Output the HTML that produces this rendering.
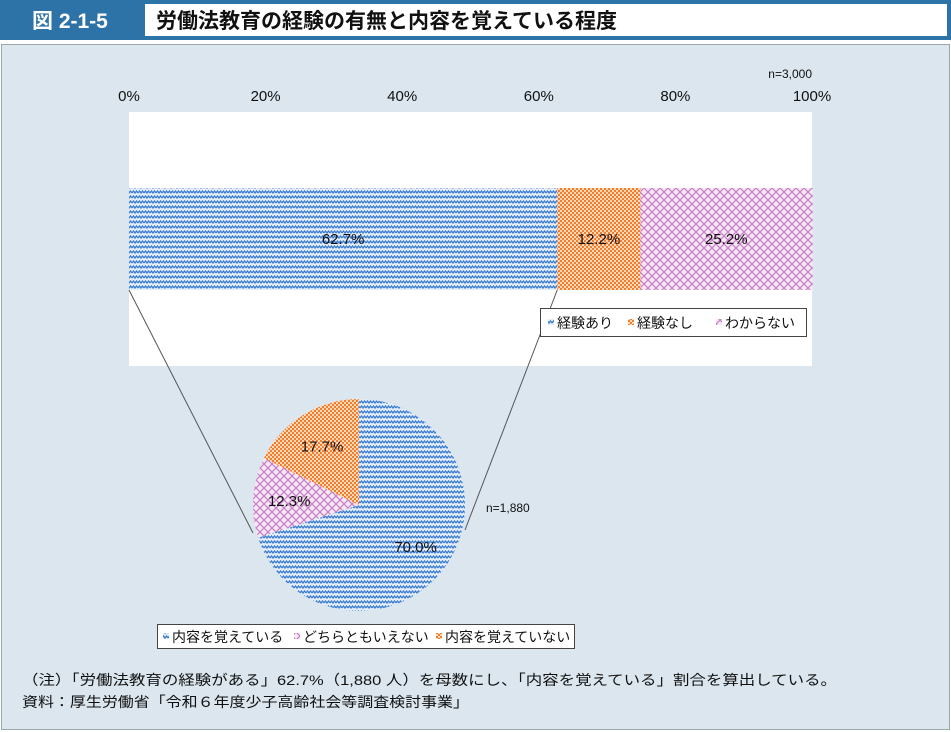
<!DOCTYPE html>
<html><head><meta charset="utf-8"><style>
body{margin:0;background:#fff;}
svg{display:block;font-family:"Liberation Sans","Noto Sans CJK JP",sans-serif;}
</style></head><body>
<svg id="chart" width="951" height="732" viewBox="0 0 951 732">
<defs>
<pattern id="pBlue" width="6" height="5" patternUnits="userSpaceOnUse">
<rect width="6" height="5" fill="#e4eefa"/>
<path d="M0 3 L1.5 1 L3 3 L4.5 1 L6 3" stroke="#3a7cd0" stroke-width="1.3" fill="none"/>
</pattern>
<pattern id="pOrange" width="4" height="4" patternUnits="userSpaceOnUse">
<rect width="4" height="4" fill="#fbd9bd"/>
<rect width="2" height="2" fill="#f57c28"/><rect x="2" y="2" width="2" height="2" fill="#f57c28"/>
</pattern>
<pattern id="pPink" width="8" height="8" patternUnits="userSpaceOnUse">
<rect width="8" height="8" fill="#f7e6f5"/>
<path d="M0 0 L8 8 M8 0 L0 8" stroke="#c67fc3" stroke-width="1.2"/>
</pattern>
</defs>
<rect x="0" y="0" width="951" height="40" fill="#2e73a7"/>
<text x="32" y="28" font-size="21" font-weight="bold" fill="#fff">図 2-1-5</text>
<rect x="145" y="4" width="802" height="32" fill="#fff"/>
<text x="156" y="28" font-size="21" font-weight="bold" fill="#111">労働法教育の経験の有無と内容を覚えている程度</text>
<rect x="1.5" y="44.5" width="948" height="685" fill="#dbe6ee" stroke="#9aa" stroke-width="1"/>
<rect x="129" y="112" width="683" height="254" fill="#fff"/>
<text x="812" y="78" font-size="12" text-anchor="end" fill="#111">n=3,000</text>
<g id="xticks"></g>
<g id="bars"></g>
<g id="lines"></g>
<g id="pie"></g>
<g>
<rect x="540.5" y="308.5" width="266" height="28" fill="#fff" stroke="#444"/>
<rect x="548" y="319" width="6" height="6" fill="url(#pBlue)"/><text x="557" y="328" font-size="14" fill="#111">経験あり</text>
<rect x="628" y="319" width="6" height="6" fill="url(#pOrange)"/><text x="637" y="328" font-size="14" fill="#111">経験なし</text>
<rect x="716" y="319" width="6" height="6" fill="url(#pPink)"/><text x="725" y="328" font-size="14" fill="#111">わからない</text>
</g>
<text x="486" y="512" font-size="12" fill="#111">n=1,880</text>
<g>
<rect x="157.5" y="624.5" width="417" height="24" fill="#fff" stroke="#444"/>
<rect x="163" y="633" width="6" height="6" fill="url(#pBlue)"/><text x="172" y="642" font-size="14" fill="#111">内容を覚えている</text>
<rect x="294" y="633" width="6" height="6" fill="url(#pPink)"/><text x="303" y="642" font-size="14" fill="#111">どちらともいえない</text>
<rect x="436" y="633" width="6" height="6" fill="url(#pOrange)"/><text x="445" y="642" font-size="14" fill="#111">内容を覚えていない</text>
</g>
<text x="22" y="685" font-size="14" fill="#111" textLength="815" lengthAdjust="spacingAndGlyphs">（注）「労働法教育の経験がある」62.7%（1,880 人）を母数にし、「内容を覚えている」割合を算出している。</text>
<text x="22" y="707" font-size="14" fill="#111" textLength="447" lengthAdjust="spacingAndGlyphs">資料：厚生労働省「令和６年度少子高齢社会等調査検討事業」</text>
</svg>
<script>
const barCategories = ['経験あり','経験なし','わからない'];
const barValues = [62.7, 12.2, 25.2];
const barLabels = ['62.7%','12.2%','25.2%'];
const tickValues = [0,20,40,60,80,100];
const tickLabels = ['0%','20%','40%','60%','80%','100%'];
const pieCategories = ['内容を覚えている','どちらともいえない','内容を覚えていない'];
const pieValues = [70.0, 12.3, 17.7];
const pieLabels = ['70.0%','12.3%','17.7%'];

const NS='http://www.w3.org/2000/svg';
const X0=129, X1=812, BY=188, BH=102;
const x = v => X0 + (X1-X0)*v/100;
function mk(tag, attrs, parent){const e=document.createElementNS(NS,tag);for(const k in attrs)e.setAttribute(k,attrs[k]);parent.appendChild(e);return e;}
const fills=['url(#pBlue)','url(#pOrange)','url(#pPink)'];
const tg=document.getElementById('xticks');
tickValues.forEach((t,i)=>{
  const el=mk('text',{x:x(t),y:101,'font-size':15,'text-anchor':'middle',fill:'#111'},tg);
  el.textContent=tickLabels[i];
  
  
});
const bg=document.getElementById('bars');
let cum=0;
barValues.forEach((v,i)=>{
  const r=mk('rect',{x:x(cum),y:BY,width:x(cum+v)-x(cum),height:BH,fill:fills[i]},bg);
  
  
  const t=mk('text',{x:(x(cum)+x(Math.min(cum+v,100)))/2,y:BY+BH/2+5,'font-size':15,'text-anchor':'middle',fill:'#111'},bg);
  t.textContent=barLabels[i];
  
  
  cum+=v;
});
const CX=359, CY=505, R=106;
const pfills=['url(#pBlue)','url(#pPink)','url(#pOrange)'];
const pg=document.getElementById('pie');
const tot=pieValues.reduce((a,b)=>a+b,0);
let a0=0;
const pt=(a,r)=>[CX+r*Math.sin(a),CY-r*Math.cos(a)];
pieValues.forEach((v,i)=>{
  const a1=a0+2*Math.PI*v/tot;
  const [sx,sy]=pt(a0,R),[ex,ey]=pt(a1,R);
  const large=(a1-a0)>Math.PI?1:0;
  const p=mk('path',{d:`M${CX},${CY} L${sx},${sy} A${R},${R} 0 ${large} 1 ${ex},${ey} Z`,fill:pfills[i]},pg);
  
  
  const mid=(a0+a1)/2;
  const [lx,ly]=pt(mid,R*0.66);
  const t=mk('text',{x:lx,y:ly+6,'font-size':15,'text-anchor':'middle',fill:'#111'},pg);
  t.textContent=pieLabels[i];
  
  
  a0=a1;
});
const lg=document.getElementById('lines');
const l1=mk('line',{x1:x(0),y1:BY+BH,x2:CX-R,y2:CY+28,stroke:'#555','stroke-width':1},lg);


const l2=mk('line',{x1:x(barValues[0]),y1:BY+BH,x2:CX+R,y2:CY+25,stroke:'#555','stroke-width':1},lg);


</script>
</body></html>
